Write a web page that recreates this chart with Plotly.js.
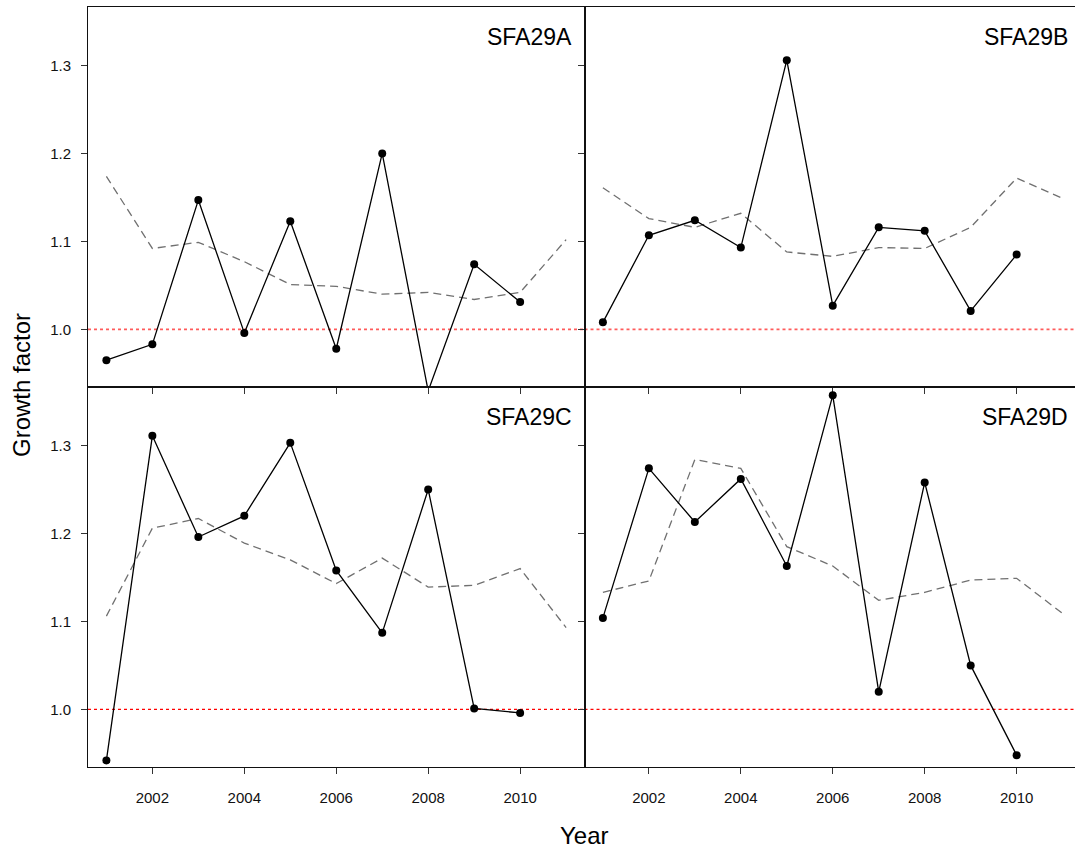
<!DOCTYPE html>
<html>
<head>
<meta charset="utf-8">
<script src="https://cdn.plot.ly/plotly-3.0.1.min.js"></script>
<style>
html, body { margin: 0; padding: 0; overflow: hidden; background: #fff; }
#chart { width: 1082px; height: 850px; }
</style>
</head>
<body>
<div id="chart"></div>
<script>
// ---- data ----
const years = [2001, 2002, 2003, 2004, 2005, 2006, 2007, 2008, 2009, 2010];
const yearsRef = [2001, 2002, 2003, 2004, 2005, 2006, 2007, 2008, 2009, 2010, 2011];
const panelNames = ["SFA29A", "SFA29B", "SFA29C", "SFA29D"];

const growthA = [0.965, 0.983, 1.147, 0.996, 1.123, 0.978, 1.200, 0.930, 1.074, 1.031];
const growthB = [1.008, 1.107, 1.124, 1.093, 1.306, 1.027, 1.116, 1.112, 1.021, 1.085];
const growthC = [0.942, 1.311, 1.196, 1.220, 1.303, 1.158, 1.087, 1.250, 1.001, 0.996];
const growthD = [1.104, 1.274, 1.213, 1.262, 1.163, 1.357, 1.020, 1.258, 1.050, 0.948];

const refA = [1.174, 1.092, 1.099, 1.077, 1.051, 1.049, 1.040, 1.042, 1.034, 1.042, 1.102];
const refB = [1.161, 1.126, 1.116, 1.132, 1.088, 1.083, 1.093, 1.092, 1.116, 1.172, 1.149];
const refC = [1.106, 1.206, 1.217, 1.189, 1.170, 1.143, 1.172, 1.139, 1.141, 1.160, 1.093];
const refD = [1.133, 1.146, 1.284, 1.274, 1.185, 1.163, 1.124, 1.133, 1.147, 1.149, 1.109];

const xTicks = [2002, 2004, 2006, 2008, 2010];
const yTicks = [1.0, 1.1, 1.2, 1.3];
const yTickText = ["1.0", "1.1", "1.2", "1.3"];
const baseline = 1.0;

// ---- layout ----
const growth = [growthA, growthB, growthC, growthD];
const refs = [refA, refB, refC, refD];
// panel order: A top-left, B top-right, C bottom-left, D bottom-right
const panels = [
  {xd: [0, 0.5], yd: [0.5, 1], xlab: false, ylab: true, red: 'rgba(255,50,50,0.8)', rw: 1.6},
  {xd: [0.5, 1], yd: [0.5, 1], xlab: false, ylab: false, red: 'rgba(255,50,50,0.8)', rw: 1.6},
  {xd: [0, 0.5], yd: [0, 0.5], xlab: true, ylab: true, red: '#ff0000', rw: 1.1},
  {xd: [0.5, 1], yd: [0, 0.5], xlab: true, ylab: false, red: '#ff0000', rw: 1.1}
];

const font = "Liberation Sans, Arial, sans-serif";
const traces = [];
const layout = {
  width: 1082, height: 850,
  margin: {l: 88, r: 1, t: 7, b: 83},
  paper_bgcolor: '#fff', plot_bgcolor: '#fff',
  showlegend: false,
  font: {family: font, color: '#000'},
  annotations: [], shapes: []
};

panels.forEach((p, i) => {
  const n = i + 1;
  const xa = n === 1 ? 'x' : 'x' + n;
  const ya = n === 1 ? 'y' : 'y' + n;
  const xk = n === 1 ? 'xaxis' : 'xaxis' + n;
  const yk = n === 1 ? 'yaxis' : 'yaxis' + n;
  layout[xk] = {
    domain: p.xd, anchor: ya, range: [2000.6, 2011.4],
    tickmode: 'array', tickvals: xTicks, ticktext: xTicks.map(String),
    showticklabels: p.xlab, ticks: 'outside', ticklen: 6, tickwidth: 1, tickcolor: '#333',
    tickfont: {size: 15, family: font, color: '#111'},
    showgrid: false, zeroline: false,
    showline: true, linecolor: '#111', linewidth: 1, mirror: true,
    ticklabelstandoff: 11
  };
  layout[yk] = {
    domain: p.yd, anchor: xa, range: [0.9345, 1.3665],
    tickmode: 'array', tickvals: yTicks, ticktext: yTickText,
    showticklabels: p.ylab, ticks: 'outside', ticklen: 6, tickwidth: 1, tickcolor: '#333',
    tickfont: {size: 15, family: font, color: '#111'},
    showgrid: false, zeroline: false,
    showline: true, linecolor: '#111', linewidth: 1, mirror: true,
    ticklabelstandoff: 7
  };
  // reference dotted line at 1.0
  layout.shapes.push({
    type: 'line', xref: xa + ' domain', yref: ya,
    x0: 0, x1: 1, y0: baseline, y1: baseline,
    line: {color: p.red, width: p.rw, dash: 'dot'}, layer: 'below'
  });
  // dashed reference series
  traces.push({
    type: 'scatter', mode: 'lines', x: yearsRef, y: refs[i], xaxis: xa, yaxis: ya,
    line: {color: '#707070', width: 1.3, dash: '8px,5px'}, hoverinfo: 'skip'
  });
  // growth factor series
  traces.push({
    type: 'scatter', mode: 'lines+markers', x: years, y: growth[i], xaxis: xa, yaxis: ya,
    line: {color: '#000', width: 1.3},
    marker: {color: '#000', size: 8, symbol: 'circle'},
    cliponaxis: true
  });
  layout.annotations.push({
    text: panelNames[i], xref: xa + ' domain', yref: ya + ' domain',
    x: 0.978, y: 0.921, xanchor: 'right', yanchor: 'middle',
    showarrow: false, font: {size: 23, family: font, color: '#000'}
  });
});

layout.annotations.push({
  text: 'Year', xref: 'paper', yref: 'paper', x: 0.5005, y: -0.0895,
  xanchor: 'center', yanchor: 'middle', showarrow: false,
  font: {size: 24, family: font, color: '#000'}
});
layout.annotations.push({
  text: 'Growth factor', xref: 'paper', yref: 'paper', x: -0.0675, y: 0.5026,
  xanchor: 'center', yanchor: 'middle', textangle: -90, showarrow: false,
  font: {size: 24, family: font, color: '#000'}
});

Plotly.newPlot('chart', traces, layout, {displayModeBar: false, staticPlot: true});
</script>
</body>
</html>
